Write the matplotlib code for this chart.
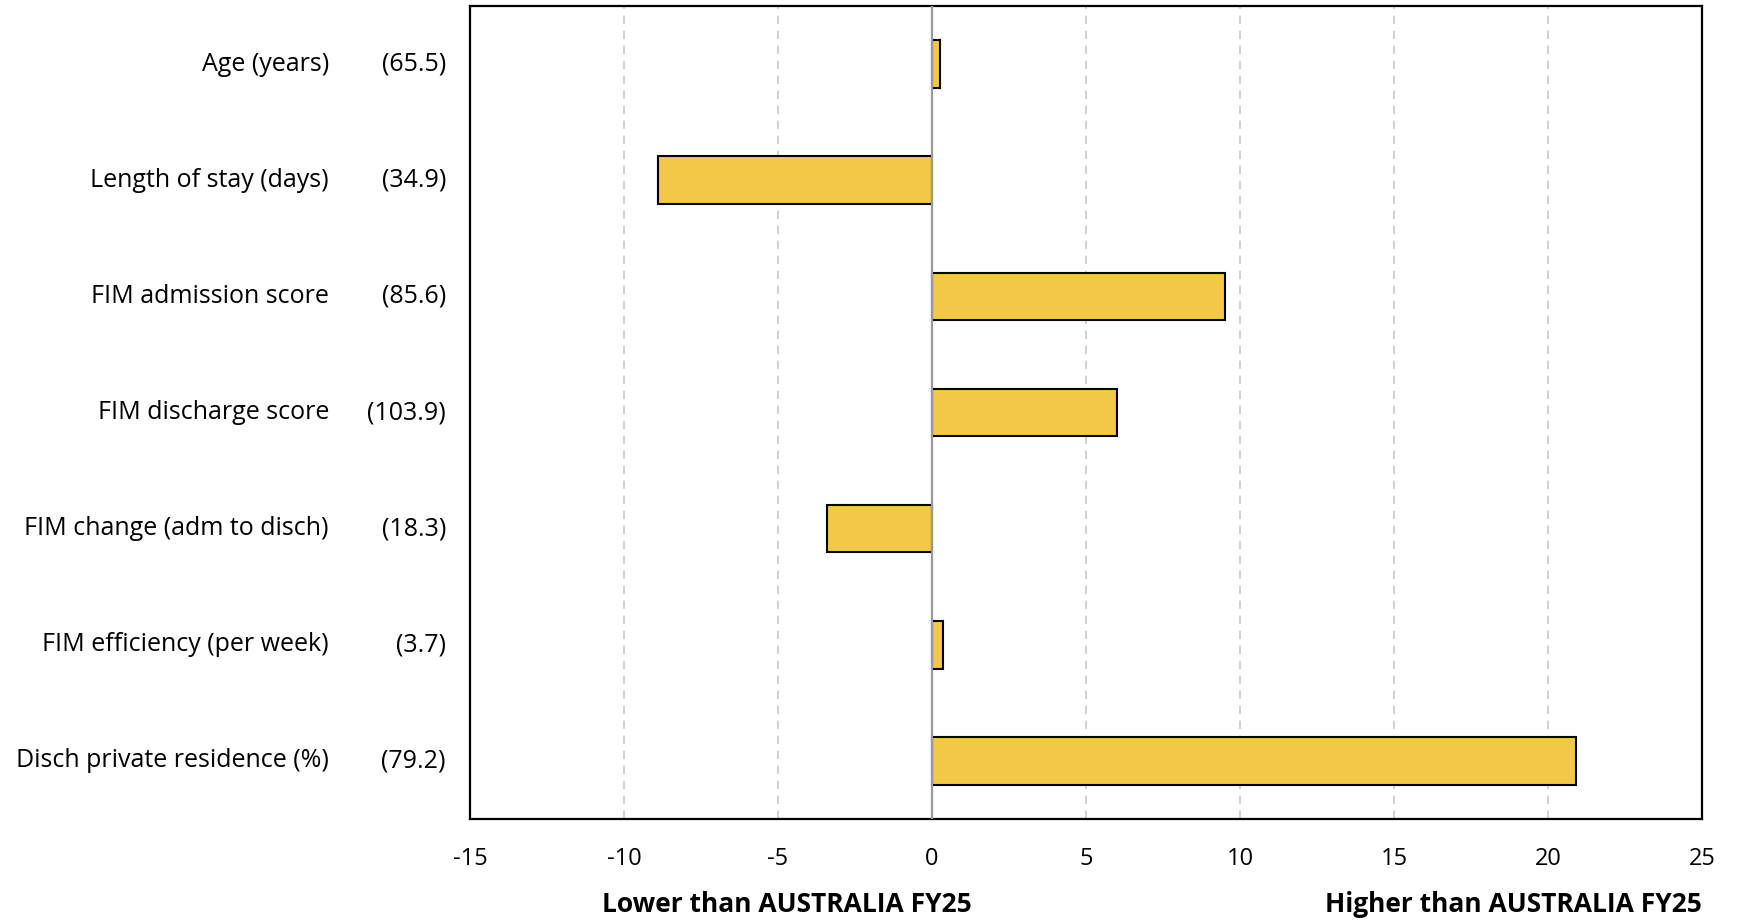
import matplotlib
matplotlib.use('Agg')
import matplotlib.pyplot as plt

plt.rcParams['font.family'] = ['Open Sans', 'DejaVu Sans']

# Measures and their Australia FY25 reference values
measures = ['Age (years)', 'Length of stay (days)', 'FIM admission score',
            'FIM discharge score', 'FIM change (adm to disch)',
            'FIM efficiency (per week)', 'Disch private residence (%)']
reference = ['(65.5)', '(34.9)', '(85.6)', '(103.9)', '(18.3)', '(3.7)', '(79.2)']
# Difference from Australia FY25
diffs = [0.25, -8.9, 9.5, 6.0, -3.4, 0.36, 20.9]
xticks = [-15, -10, -5, 0, 5, 10, 15, 20, 25]

fig = plt.figure(figsize=(17.4, 9.21), dpi=100)
ax = fig.add_axes([470 / 1740, 1 - 819 / 921, (1702 - 470) / 1740, (819 - 6) / 921])

y = list(range(len(measures)))
ax.barh(y, diffs, height=0.41, color='#F3C846', edgecolor='black', linewidth=1.5, zorder=3)
ax.axvline(0, color='#999999', linewidth=1.6, zorder=4)

ax.set_xlim(-15, 25)
ax.set_ylim(6.5, -0.5)
ax.set_xticks(xticks)
ax.set_xticklabels([str(t) for t in xticks], fontsize=17)
ax.set_yticks([])
ax.tick_params(axis='x', length=0, pad=20)
for t in xticks:
    if t not in (-15, 0, 25):
        ax.axvline(t, color='#c8c8c8', linewidth=1.2, linestyle=(0, (5, 4)), zorder=1)
for s in ax.spines.values():
    s.set_linewidth(1.6)

# two label columns to the left of the axes
for i in y:
    ax.annotate(measures[i], xy=(0, i), xycoords=('axes fraction', 'data'),
                xytext=(-141, 0), textcoords='offset pixels',
                ha='right', va='center', fontsize=18)
    ax.annotate(reference[i], xy=(0, i), xycoords=('axes fraction', 'data'),
                xytext=(-24, 0), textcoords='offset pixels',
                ha='right', va='center', fontsize=18)

fig.text(787 / 1740, 1 - 904 / 921, 'Lower than AUSTRALIA FY25', ha='center', va='center',
         fontsize=19, fontweight='bold')
fig.text(1702 / 1740, 1 - 904 / 921, 'Higher than AUSTRALIA FY25', ha='right', va='center',
         fontsize=19, fontweight='bold')

fig.savefig('out.png', dpi=100)
